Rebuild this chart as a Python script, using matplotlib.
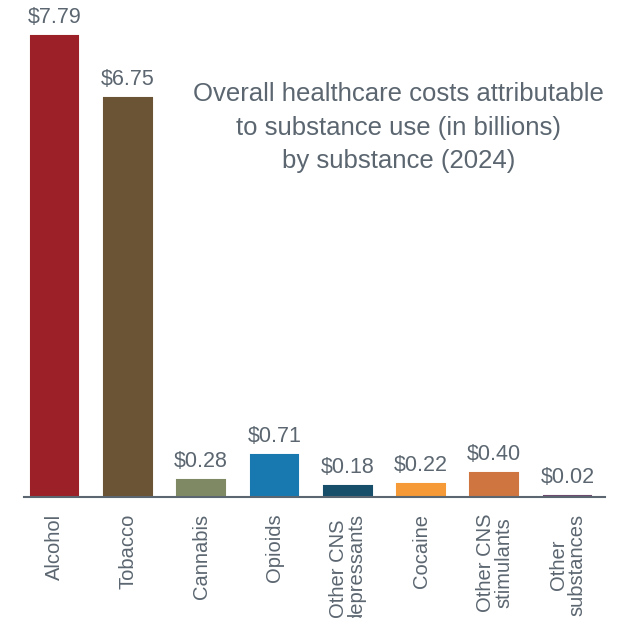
import matplotlib
matplotlib.use('Agg')
import matplotlib.pyplot as plt
import numpy as np

# data
substances = ['Alcohol', 'Tobacco', 'Cannabis', 'Opioids', 'Other CNS\ndepressants',
              'Cocaine', 'Other CNS\nstimulants', 'Other\nsubstances']
costs = [7.79, 6.75, 0.28, 0.71, 0.18, 0.22, 0.40, 0.02]
colors = ['#9b2028', '#6b5335', '#7f8a65', '#1779b0', '#174f6b',
          '#f59a36', '#cf7540', '#6d4a6e']

text_col = '#5b6670'
plt.rcParams['font.family'] = ['Liberation Sans', 'DejaVu Sans']

fig = plt.figure(figsize=(6.25, 6.18), dpi=100)
ax = fig.add_axes([24/625, 121/618, 581/625, 497/618])

x = np.arange(len(costs))
ax.bar(x, costs, width=0.65, color=colors, edgecolor=colors, linewidth=1.5)
for xi, v in zip(x, costs):
    ax.text(xi, v + 0.22, '${:.2f}'.format(v), ha='center', va='baseline',
            fontsize=15.5, color=text_col)

ax.set_xlim(-0.416, 7.51)
ax.set_ylim(0, 8.40)
ax.set_xticks(x)
ax.set_xticklabels(substances, rotation=90, fontsize=14.5, color=text_col,
                   va='top', ha='center', linespacing=0.95)
ax.tick_params(axis='x', length=0, pad=12)
ax.set_yticks([])
for s in ['top', 'right', 'left']:
    ax.spines[s].set_visible(False)
ax.spines['bottom'].set_color('#5b6670')
ax.spines['bottom'].set_linewidth(1.5)

ax.text(0.6446, 0.7425, 'Overall healthcare costs attributable\nto substance use (in billions)\nby substance (2024)',
        transform=ax.transAxes, ha='center', va='center', fontsize=18.5,
        color=text_col, linespacing=1.5)

fig.savefig('out.png', dpi=100)
